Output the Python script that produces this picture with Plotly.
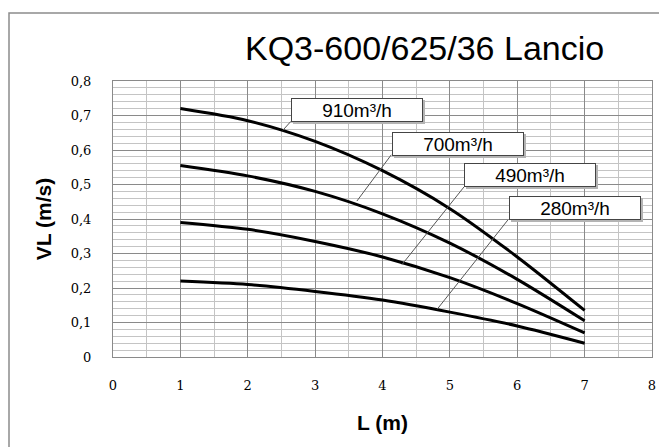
import plotly.graph_objects as go

# ---- data ----
L_values = [1, 2, 3, 4, 5, 6, 7]
vl_910 = [0.72, 0.685, 0.625, 0.54, 0.43, 0.29, 0.135]
vl_700 = [0.555, 0.525, 0.48, 0.415, 0.33, 0.225, 0.105]
vl_490 = [0.39, 0.37, 0.335, 0.29, 0.23, 0.155, 0.07]
vl_280 = [0.22, 0.21, 0.19, 0.165, 0.13, 0.09, 0.04]
series_names = ["910m³/h", "700m³/h", "490m³/h", "280m³/h"]
series_values = [vl_910, vl_700, vl_490, vl_280]

x_ticks = [0, 1, 2, 3, 4, 5, 6, 7, 8]
x_ticktext = ["0", "1", "2", "3", "4", "5", "6", "7", "8"]
y_ticks = [0, 0.1, 0.2, 0.3, 0.4, 0.5, 0.6, 0.7, 0.8]
y_ticktext = ["0", "0,1", "0,2", "0,3", "0,4", "0,5", "0,6", "0,7", "0,8"]

# label boxes: (center x, center y, corner x, corner y, curve point x, curve point y)
label_boxes = [
    (3.62, 0.717, 2.64, 0.683, 2.52, 0.657),
    (5.12, 0.617, 4.13, 0.586, 3.62, 0.452),
    (6.19, 0.528, 5.21, 0.493, 4.29, 0.268),
    (6.85, 0.433, 5.86, 0.397, 4.81, 0.138),
]

fig = go.Figure()
for name, vals in zip(series_names, series_values):
    fig.add_trace(go.Scatter(
        x=L_values, y=vals, mode="lines", name=name,
        line=dict(color="black", width=3, shape="spline", smoothing=0.8),
        showlegend=False,
    ))

shapes = []
annotations = []
for name, (cx, cy, kx, ky, px, py) in zip(series_names, label_boxes):
    shapes.append(dict(type="line", xref="x", yref="y", x0=kx, y0=ky, x1=px, y1=py,
                       line=dict(color="#555555", width=1)))
    # soft shadow (empty box)
    annotations.append(dict(x=cx, y=cy, xref="x", yref="y", text=" ", showarrow=False,
                            xshift=2, yshift=-2,
                            font=dict(family="Liberation Sans, Arial", size=19),
                            bgcolor="#b4b4b4", borderwidth=1, bordercolor="#b4b4b4",
                            width=128, height=20))
    annotations.append(dict(x=cx, y=cy, xref="x", yref="y", text=name, showarrow=False,
                            font=dict(family="Liberation Sans, Arial", size=19, color="black"),
                            bgcolor="white", bordercolor="#444444", borderwidth=1,
                            width=128, height=20, align="center"))

# outer chart frame
shapes.append(dict(type="rect", xref="paper", yref="paper",
                   x0=(9 - 113) / 539, x1=1.3, y0=-0.5, y1=(357 - 13) / 276,
                   line=dict(color="#8c8c8c", width=1.5), fillcolor="rgba(0,0,0,0)", layer="below"))

annotations.append(dict(text="KQ3-600/625/36 Lancio", xref="paper", yref="paper",
                        x=(424 - 113) / 539, y=(357 - 48) / 276, showarrow=False,
                        xanchor="center", yanchor="middle",
                        font=dict(family="Liberation Sans, Arial", size=34, color="black")))

# page body has an 8px margin: figure shrunk so plot lands where the reference has it
fig.update_layout(
    width=659, height=439,
    margin=dict(l=105, r=15, t=73, b=90),
    paper_bgcolor="white", plot_bgcolor="white",
    shapes=shapes, annotations=annotations,
)
fig.update_xaxes(
    range=[0, 8], tickmode="array", tickvals=x_ticks, ticktext=x_ticktext,
    showgrid=True, gridcolor="#8a8a8a", gridwidth=1,
    minor=dict(tickmode="linear", tick0=0, dtick=0.5, showgrid=True, gridcolor="#c4c4c4", gridwidth=1),
    showline=True, linecolor="#8a8a8a", mirror=True, zeroline=False,
    ticks="", ticklabelstandoff=16, automargin=False,
    tickfont=dict(family="DejaVu Serif", size=13, color="black"),
    title=dict(text="<b>L (m)</b>", font=dict(family="Liberation Sans, Arial", size=21, color="black"), standoff=23),
)
fig.update_yaxes(
    range=[0, 0.8], tickmode="array", tickvals=y_ticks, ticktext=y_ticktext,
    showgrid=True, gridcolor="#8a8a8a", gridwidth=1,
    minor=dict(tickmode="linear", tick0=0, dtick=0.02, showgrid=True, gridcolor="#c4c4c4", gridwidth=1),
    showline=True, linecolor="#8a8a8a", mirror=True, zeroline=False,
    ticks="", ticklabelstandoff=18, automargin=False,
    tickfont=dict(family="DejaVu Serif", size=13, color="black"),
    title=dict(text="<b>VL (m/s)</b>", font=dict(family="Liberation Sans, Arial", size=21, color="black"), standoff=13),
)

fig.write_html("out.html")
